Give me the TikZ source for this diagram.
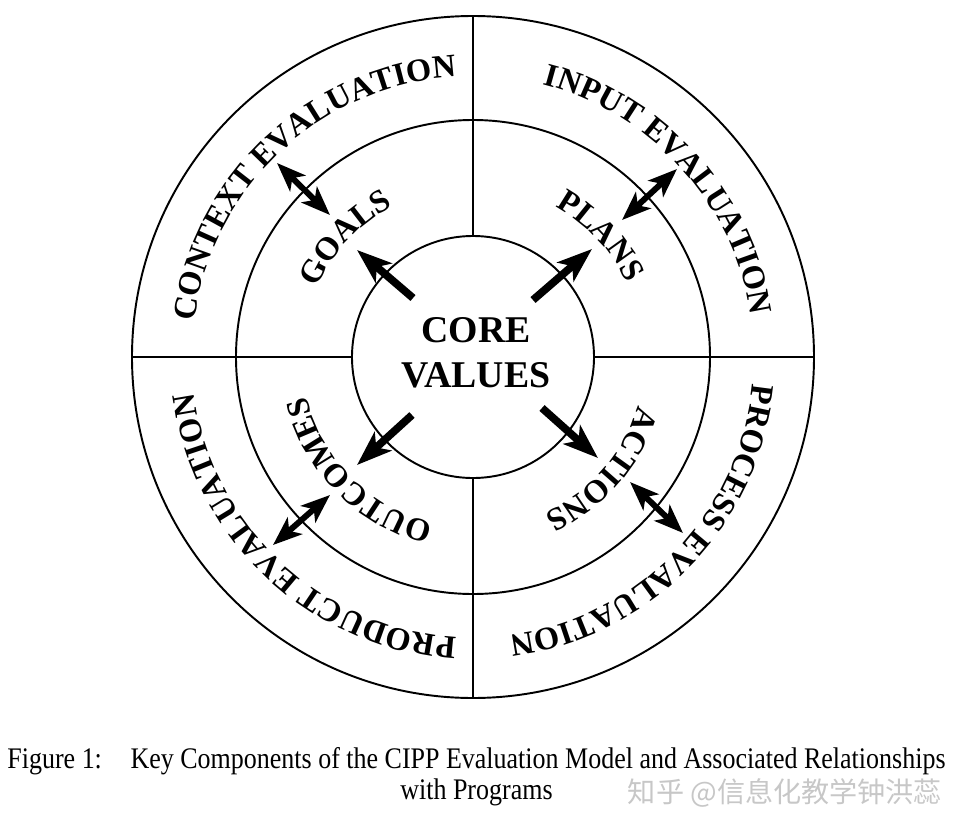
\documentclass[tikz,border=0pt]{standalone}
\usepackage{fontspec}
\setmainfont{Liberation Serif}
\newfontfamily\cjkfont{Noto Sans CJK SC}
\usepackage{xcolor}
\usepackage{tikz}
\usetikzlibrary{arrows.meta, decorations.text}

\tikzset{
	ring/.style={draw, circle, line width=1.1pt, inner sep=0pt},
	divider/.style={line width=1.1pt},
	onearrow/.style={line width=4.4pt, -{Stealth[length=7mm, width=5mm, inset=1.8mm]}},
	twoarrow/.style={line width=3.4pt, {Stealth[length=5.8mm, width=4.4mm, inset=1.5mm]}-{Stealth[length=5.8mm, width=4.4mm, inset=1.5mm]}},
	ringtext/.style={decorate, decoration={text along path, text align=center, text={|\bfseries\fontsize{18.5}{20}\selectfont|#1}}},
	captext/.style={font=\fontsize{17}{19}\selectfont, xscale=0.87, anchor=base}
}

\begin{document}
\begin{tikzpicture}
				\useasboundingbox (-9.46,-9.48) rectangle (9.94,7.14);
				% Circles and dividers:
				\node[ring, minimum size=13.64cm](outer) at (0,0){};
				\node[ring, minimum size=9.48cm](middle) at (0,0){};
				\node[ring, minimum size=4.84cm](core) at (0,0){};
				\node[font=\bfseries\fontsize{21.5}{25.6}\selectfont, align=center](corelabel) at (0.06,0.09){CORE\\VALUES};
				\draw[divider] (core.north) -- (outer.north);
				\draw[divider] (core.south) -- (outer.south);
				\draw[divider] (core.west) -- (outer.west);
				\draw[divider] (core.east) -- (outer.east);
				% Texts on the rings:
				\path[ringtext={CONTEXT EVALUATION}] (173:5.62) arc[start angle=173, end angle=93, radius=5.62];
				\path[ringtext={INPUT EVALUATION}] (82:5.62) arc[start angle=82, end angle=2, radius=5.62];
				\path[ringtext={PROCESS EVALUATION}] (-4:5.62) arc[start angle=-4, end angle=-84, radius=5.62];
				\path[ringtext={PRODUCT EVALUATION}] (-93:5.62) arc[start angle=-93, end angle=-173, radius=5.62];
				\path[ringtext={GOALS}] (177:3.42) arc[start angle=177, end angle=97, radius=3.42];
				\path[ringtext={PLANS}] (83.5:3.42) arc[start angle=83.5, end angle=3.5, radius=3.42];
				\path[ringtext={ACTIONS}] (-1:3.44) arc[start angle=-1, end angle=-81, radius=3.44];
				\path[ringtext={OUTCOMES}] (-95:3.42) arc[start angle=-95, end angle=-175, radius=3.42];
				% Arrows:
				\coordinate (goalsin) at (-1.2,1.18);
				\coordinate (goals) at (-2.32,2.14);
				\coordinate (plansin) at (1.2,1.14);
				\coordinate (plans) at (2.38,2.16);
				\coordinate (outcomesin) at (-1.22,-1.16);
				\coordinate (outcomes) at (-2.32,-2.16);
				\coordinate (actionsin) at (1.38,-1.02);
				\coordinate (actions) at (2.5,-2.02);
				\draw[onearrow] (goalsin) -- (goals);
				\draw[onearrow] (plansin) -- (plans);
				\draw[onearrow] (outcomesin) -- (outcomes);
				\draw[onearrow] (actionsin) -- (actions);
				\coordinate (context) at (-3.92,3.88);
				\coordinate (goalsout) at (-2.86,2.84);
				\coordinate (input) at (4.08,3.76);
				\coordinate (plansout) at (2.98,2.74);
				\coordinate (product) at (-4.0,-3.76);
				\coordinate (outcomesout) at (-2.86,-2.76);
				\coordinate (process) at (4.2,-3.52);
				\coordinate (actionsout) at (3.14,-2.5);
				\draw[twoarrow] (goalsout) -- (context);
				\draw[twoarrow] (plansout) -- (input);
				\draw[twoarrow] (outcomesout) -- (product);
				\draw[twoarrow] (actionsout) -- (process);
				% Caption:
				\node[captext](cap1) at (0.07,-8.22){Figure 1:\hspace{1.1em}Key Components of the CIPP Evaluation Model and Associated Relationships};
				\node[captext](cap2) at (0.07,-8.84){with Programs};
				\node[font=\cjkfont\fontsize{16}{18}\selectfont, text=black!22](mark) at (6.24,-8.72){知乎 @信息化教学钟洪蕊};
			\end{tikzpicture}
\end{document}
